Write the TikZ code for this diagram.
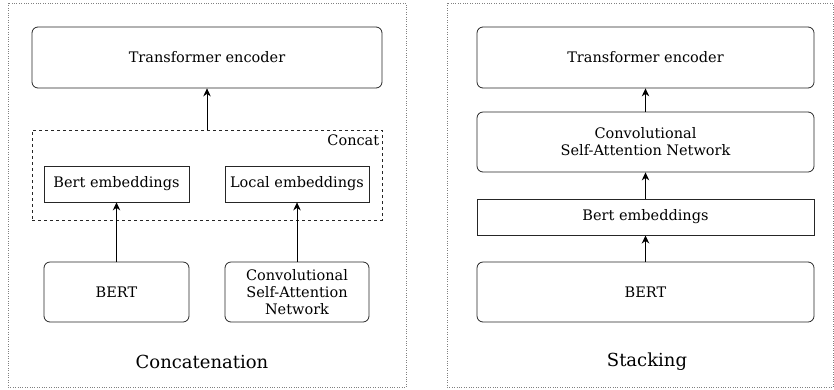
\documentclass[tikz,border=0pt]{standalone}
\usepackage{fontspec}
\setmainfont{DejaVu Serif}
\usetikzlibrary{positioning,arrows.meta}
\tikzset{
  frame/.style={draw=gray, dotted, thin},
  block/.style={draw=black!85, line width=0.8pt, rounded corners=6pt, align=center, inner sep=0pt,
    font=\fontsize{14.5}{17}\selectfont},
  embbox/.style={draw=black!85, line width=0.8pt, align=center, inner sep=0pt,
    font=\fontsize{14.5}{17}\selectfont},
  caption/.style={font=\fontsize{18}{21}\selectfont}
}
\begin{document}
\begin{tikzpicture}[>={Stealth[length=8pt,width=7.5pt]}, x=1pt, y=-1pt]
\useasboundingbox (0,0) rectangle (834,389);
% Concatenation
\draw[frame] (8,3) rectangle (406,387);
\node (tfL) at (207,57.5) [block, minimum width=350pt, minimum height=61pt] {Transformer encoder};
\node (cat) at (207,175) [draw=black!85, line width=0.8pt, dashed, minimum width=350pt, minimum height=90pt] {};
\node (catlbl) [below left=3pt and 1pt of cat.north east, inner sep=2pt, font=\fontsize{14.5}{17}\selectfont] {Concat};
\node (bembL) at (116.5,184) [embbox, minimum width=145pt, minimum height=36pt] {Bert embeddings};
\node (local) at (297,184) [embbox, minimum width=144pt, minimum height=36pt] {Local embeddings};
\node (bertL) at (116.5,292) [block, minimum width=145pt, minimum height=60pt] {BERT};
\node (csanL) at (297,292) [block, minimum width=144pt, minimum height=60pt] {Convolutional\\ Self-Attention\\ Network};
\node (capL) at (202,362) [caption] {Concatenation};
\draw [->,line width=0.8pt] (cat) -- (tfL);
\draw [->,line width=0.8pt] (bertL) -- (bembL);
\draw [->,line width=0.8pt] (csanL) -- (local);
% Stacking
\draw[frame] (447,3) rectangle (833,387);
\node (tfR) at (645.5,57.5) [block, minimum width=337pt, minimum height=61pt] {Transformer encoder};
\node (csanR) at (645.5,142) [block, minimum width=337pt, minimum height=60pt] {Convolutional\\ Self-Attention Network};
\node (bembR) at (645.5,217) [embbox, line width=1pt, minimum width=337pt, minimum height=36pt] {Bert embeddings};
\node (bertR) at (645.5,292) [block, minimum width=337pt, minimum height=60pt] {BERT};
\node (capR) at (647,362) [caption] {Stacking};
\draw [->,line width=0.8pt] (bertR) -- (bembR);
\draw [->,line width=0.8pt] (bembR) -- (csanR);
\draw [->,line width=0.8pt] (csanR) -- (tfR);
\end{tikzpicture}
\end{document}
